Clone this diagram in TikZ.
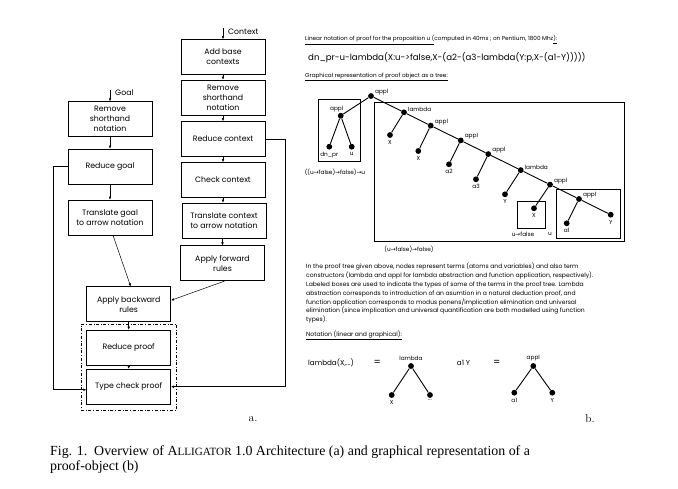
\documentclass[tikz,border=0pt]{standalone}
\usepackage{fontspec}
\newfontfamily\pop{Poppins}
\newfontfamily\tms{Liberation Serif}
\newfontfamily\symf{DejaVu Sans}
\usetikzlibrary{arrows.meta,fit}
\newcommand\rarr{{\symf →}}
\newcommand\fs[2]{\fontsize{#1}{#2}\selectfont}
\begin{document}
\begin{tikzpicture}[x=1pt,y=-1pt,
  fbox/.style={draw,line width=0.65pt,minimum width=84pt,minimum height=35pt,align=center,inner sep=1pt,font=\pop\fs{7.8}{10}},
  arr/.style={-{Latex[length=3pt,width=2.6pt]},line width=0.5pt},
  dot/.style={circle,fill,inner sep=0pt,minimum size=5.8pt},
  tedge/.style={line width=0.9pt},
  lbl/.style={font=\pop\fs{5.8}{7},inner sep=0.8pt},
  slbl/.style={lbl,anchor=south west},
  blbl/.style={lbl,label distance=1.2pt},
  tbox/.style={line width=0.65pt},
  txt/.style={inner sep=0pt,font=\pop\fs{5.7}{7}},
]
\useasboundingbox (0,0) rectangle (678,488);
\fill[white] (0,0) rectangle (678,488);

% ---------- (a) flowchart ----------
\node[fbox] (ctxadd) at (223,57) {Add base\\contexts};
\node[fbox] (ctxrem) at (223,97.5) {Remove\\shorthand\\notation};
\node[fbox] (ctxred) at (223,139) {Reduce context};
\node[fbox] (ctxchk) at (223,180) {Check context};
\node[fbox] (ctxtr) at (224,220.5) {Translate context\\to arrow notation};
\node[fbox] (ctxfw) at (222.5,263.3) {Apply forward\\rules};

\node[fbox] (grem) at (110,119.2) {Remove\\shorthand\\notation};
\node[fbox] (gred) at (110,166.5) {Reduce goal};
\node[fbox] (gtr) at (110,217.5) {Translate goal\\to arrow notation};
\node[fbox] (bwd) at (128.7,304.3) {Apply backward\\rules};
\node[fbox] (rproof) at (128.7,347.5) {Reduce proof};
\node[fbox] (tcheck) at (128.7,386.7) {Type check proof};
\node[draw,dash dot,line width=0.6pt,inner sep=5.5pt,fit=(rproof)(tcheck)] (dbox) {};

\coordinate (ctxin) at (223,28);
\coordinate (goalin) at (110,90);
\node[anchor=west,inner sep=0pt,font=\pop\fs{7.8}{10}] (ctxlbl) at (228,31.5) {Context};
\node[anchor=west,inner sep=0pt,font=\pop\fs{7.8}{10}] (goallbl) at (115,93) {Goal};

\draw[arr] (ctxin) -- (ctxadd);
\draw[arr] (ctxadd) -- (ctxrem);
\draw[arr] (ctxrem) -- (ctxred);
\draw[arr] (ctxred) -- (ctxchk);
\draw[arr] (ctxchk) -- (ctxtr.north -| ctxchk);
\draw[arr] (ctxtr.south -| ctxfw) -- (ctxfw);
\draw[arr] (goalin) -- (grem);
\draw[arr] (grem) -- (gred);
\draw[arr] (gred) -- (gtr);
\draw[arr] ([xshift=3pt]gtr.south) -- ([xshift=2pt]bwd.north);
\draw[arr] ([xshift=2pt]ctxfw.south) -- ([yshift=4pt]bwd.east);
\draw[arr] (bwd) -- (rproof);
\draw[arr] (rproof) -- (tcheck);
\draw[arr] (gred.west) -- ++(-14.7,0) |- ([yshift=-3pt]tcheck.west);
\draw[arr] (ctxred.east) -- ++(20,0) |- (tcheck.east);

\node[font=\fs{11.5}{13}] (alab) at (253,419) {a.};

% ---------- (b) ----------
\node[txt,anchor=west] (h1) at (305,40) {\underline{Linear notation of proof for the proposition u (}computed in 40ms ; on Pentium, 1800 Mhz\underline{):}};
\node[txt,anchor=west,font=\pop\fs{8.6}{10}] (h2) at (308,58) {dn\_pr-u-lambda(X:u->false,X-(a2-(a3-lambda(Y:p,X-(a1-Y)))))};
\node[txt,anchor=west] (h3) at (305,76.7) {\underline{Graphical representation of proof object as a tree:}};

% boxes
\draw[tbox] (318.3,99.3) rectangle (360,161);
\draw[tbox] (374,102.5) rectangle (624,241.7);
\draw[tbox] (517.7,201) rectangle (545,228.3);
\draw[tbox] (556,189) rectangle (620.7,238.3);
\node[lbl] (t1) at (335,172) {((u\rarr false)\rarr false)\rarr u};
\node[lbl] (t2) at (409,249) {(u\rarr false)\rarr false)};
\node[lbl] (t3) at (523,234.3) {u\rarr false};
\node[lbl] (t4) at (550,234.3) {u};

% spine
\node[dot,label={[slbl]east:appl}] (r) at (371,96) {};
\node[dot,label={[slbl]east:lambda}] (la1) at (404,112.3) {};
\node[dot,label={[slbl]east:appl}] (ap1) at (430.7,125.6) {};
\node[dot,label={[slbl]east:appl}] (ap2) at (460.7,140.4) {};
\node[dot,label={[slbl]east:appl}] (ap3) at (488.3,154.1) {};
\node[dot,label={[slbl]east:lambda}] (la2) at (520.7,170.1) {};
\node[dot,label={[slbl]east:appl}] (ap4) at (550,184.6) {};
\node[dot,label={[slbl]east:appl}] (ap5) at (579,199) {};
\node[dot,label={[blbl]below:Y}] (yE) at (610.7,214.7) {};
% leaves
\node[dot,label={[blbl]below:X}] (x1) at (390,135) {};
\node[dot,label={[blbl]below:X}] (x2) at (418.3,151) {};
\node[dot,label={[blbl]below:a2}] (a2) at (449,164.3) {};
\node[dot,label={[blbl]below:a3}] (a3) at (476,179.3) {};
\node[dot,label={[blbl]below:Y}] (y1) at (505,194.3) {};
\node[dot,label={[blbl]below:X}] (x3) at (534,208.3) {};
\node[dot,label={[blbl]below:a1}] (a1) at (566.7,223.3) {};
% left subtree
\node[dot,label={[lbl,xshift=-4pt]above:appl}] (ia) at (340.7,115.7) {};
\node[dot,label={[blbl]below:dn\_pr}] (dn) at (329.3,146.7) {};
\node[dot,label={[blbl]below:u}] (uu) at (351.7,146.7) {};

\draw[tedge] (ia) -- (r) -- (la1) -- (ap1) -- (ap2) -- (ap3) -- (la2) -- (ap4) -- (ap5) -- (yE);
\draw[tedge] (ia) -- (dn);
\draw[tedge] (ia) -- (uu);
\draw[tedge] (la1) -- (x1);
\draw[tedge] (ap1) -- (x2);
\draw[tedge] (ap2) -- (a2);
\draw[tedge] (ap3) -- (a3);
\draw[tedge] (la2) -- (y1);
\draw[tedge] (ap4) -- (x3);
\draw[tedge] (ap5) -- (a1);

% paragraph
\node[txt,anchor=north west,align=left,font=\pop\fs{6.05}{8.8}] (para) at (306,263) {In the proof tree given above, nodes represent terms (atoms and variables) and also term\\
constructors (lambda and appl for lambda abstraction and function application, respectively).\\
Labeled boxes are used to indicate the types of some of the terms in the proof tree. Lambda\\
abstraction corresponds to introduction of an asumtion in a natural deduction proof, and\\
function application corresponds to modus ponens/implication elimination and universal\\
elimination (since implication and universal quantification are both modelled using function\\
types).};

\node[txt,anchor=west,font=\pop\fs{6.05}{7}] (nh) at (306,335) {\underline{Notation (linear and graphical):}};
\node[txt,anchor=west,font=\pop\fs{7.2}{8}] (lin1) at (308,363) {lambda(X,...)};
\node[txt,font=\pop\fs{10}{10}] (eq1) at (377.3,363) {=};
\node[txt,anchor=west,font=\pop\fs{7.2}{8}] (lin2) at (456.7,363) {a1 Y};
\node[txt,font=\pop\fs{10}{10}] (eq2) at (496.7,363) {=};

\node[dot,label={[lbl,label distance=1pt]above:lambda}] (nl) at (411,366) {};
\node[dot,label={[blbl]below:X}] (nx) at (391.7,395) {};
\node[dot,label={[blbl]below:...}] (nd) at (430,395) {};
\node[dot,label={[lbl,label distance=1pt]above:appl}] (na) at (533.3,366) {};
\node[dot,label={[blbl]below:a1}] (na1) at (514.3,392.7) {};
\node[dot,label={[blbl]below:Y}] (nY) at (552.3,392.7) {};
\draw[tedge] (nx) -- (nl) -- (nd);
\draw[tedge] (na1) -- (na) -- (nY);

\node[font=\fs{11.5}{13}] (blab) at (590,419) {b.};

% caption
\node[anchor=base west,inner sep=0pt,font=\tms\fs{13.9}{15}] (cap1) at (50,455) {Fig. 1.\ \ Overview of A{\fs{11.1}{12}LLIGATOR} 1.0 Architecture (a) and graphical representation of a};
\node[anchor=base west,inner sep=0pt,font=\tms\fs{13.9}{15}] (cap2) at (50,470.5) {proof-object (b)};
\end{tikzpicture}
\end{document}
